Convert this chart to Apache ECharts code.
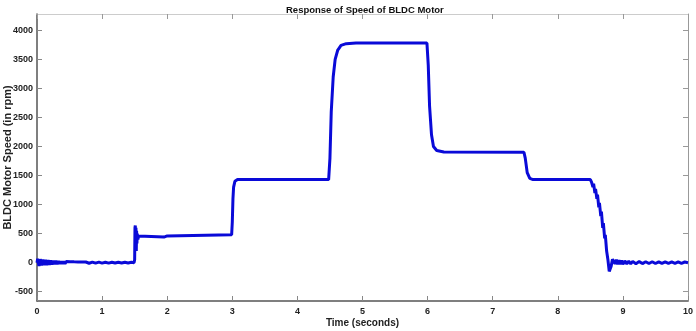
<!DOCTYPE html>
<html>
<head>
<meta charset="utf-8">
<script src="https://cdn.jsdelivr.net/npm/echarts@6/dist/echarts.min.js"></script>
<style>
  html, body { margin: 0; padding: 0; background: #fff; }
  #chart { width: 696px; height: 331px; }
</style>
</head>
<body>
<div id="chart"></div>
<script>
// time (s) and motor speed (rpm)
var times = [
  0, 0.01, 0.03, 0.05, 0.07, 0.09, 0.11, 0.13, 0.15, 0.17, 0.19, 0.21, 0.23, 0.25, 0.27, 0.29,
  0.31, 0.33, 0.35, 0.37, 0.39, 0.41, 0.43, 0.45, 0.48, 0.51, 0.54, 0.57, 0.60, 0.63, 0.66, 0.69,
  0.72, 0.75, 0.80, 0.85, 0.90, 0.95, 1.0, 1.05, 1.1, 1.15, 1.2, 1.25, 1.3, 1.35, 1.4, 1.45, 1.49,
  1.5, 1.505, 1.51, 1.515, 1.52, 1.525, 1.53, 1.535, 1.54, 1.55, 1.56, 1.58, 1.95, 2.0, 2.03, 2.99,
  3.0, 3.01, 3.02, 3.04, 3.08, 4.48,
  4.5, 4.52, 4.55, 4.58, 4.62, 4.67, 4.75, 4.9, 5.99,
  6.01, 6.03, 6.06, 6.09, 6.14, 6.25, 7.48,
  7.5, 7.53, 7.57, 7.62, 8.5,
  8.52, 8.54, 8.55, 8.57, 8.58, 8.6, 8.61, 8.63, 8.64, 8.66, 8.67, 8.69, 8.7, 8.72, 8.73, 8.75, 8.77, 8.79, 8.8,
  8.82, 8.84, 8.86, 8.88, 8.9, 8.92, 8.94, 8.96, 8.98, 9.0, 9.03, 9.06, 9.09, 9.12, 9.15, 9.2, 9.25,
  9.3, 9.35, 9.4, 9.45, 9.5, 9.55, 9.6, 9.65, 9.7, 9.75, 9.8, 9.85, 9.9, 9.95, 10
];
var speeds = [
  0, 65, -55, 60, -50, 55, -45, 48, -40, 42, -36, 38, -32, 34, -28, 30,
  -25, 26, -22, 23, -20, 20, -18, 18, -16, 16, -14, 14, -13, 13, -12, 12,
  -11, 11, -10, 10, -9, 9, -8, 8, -8, 8, -7, 7, -7, 7, -6, 6, 0,
  50, 600, 640, 250, 600, 200, 550, 330, 500, 400, 460, 440, 440, 460, 480, 480,
  700, 1100, 1300, 1400, 1430, 1430,
  1800, 2600, 3200, 3500, 3660, 3740, 3770, 3780, 3780,
  3400, 2700, 2200, 2000, 1930, 1905, 1900,
  1800, 1550, 1450, 1430, 1430,
  1380, 1300, 1360, 1200, 1270, 1100, 1170, 950, 1030, 800, 880, 600, 680, 420, 480, 200, 50, -150, -160,
  -60, 60, 90, -20, 50, -30, 40, -25, 35, -25, 30, -22, 25, -20, 22, -18, 18,
  -16, 16, -15, 15, -14, 14, -13, 13, -12, 12, -12, 12, -11, 11, 0
];
var xTicks = [0, 1, 2, 3, 4, 5, 6, 7, 8, 9, 10];
var yTicks = [-500, 0, 500, 1000, 1500, 2000, 2500, 3000, 3500, 4000];

var points = times.map(function (t, i) { return [t, speeds[i]]; });

var chart = echarts.init(document.getElementById('chart'));
var xNameFont = { fontFamily: 'Liberation Sans', fontWeight: 'bold', fontSize: 10, color: '#222' };
var yNameFont = { fontFamily: 'Liberation Sans', fontWeight: 'bold', fontSize: 11, color: '#222' };
var tickFont = { fontFamily: 'Liberation Sans', fontWeight: 'bold', fontSize: 9, color: '#222' };
var plain = function (v) { return String(v); };

chart.setOption({
  animation: false,
  title: {
    text: 'Response of Speed of BLDC Motor',
    left: 281,
    top: 0,
    textStyle: { fontFamily: 'Liberation Sans', fontWeight: 'bold', fontSize: 9.5, color: '#111' }
  },
  grid: { left: 37, right: 8, top: 14, bottom: 30, outerBoundsMode: 'none', containLabel: false },
  xAxis: [{
    type: 'value', min: 0, max: 10,
    name: 'Time (seconds)', nameLocation: 'middle', nameGap: 17, nameMoveOverlap: false,
    nameTextStyle: xNameFont,
    axisLine: { onZero: false, lineStyle: { color: '#555', width: 1.5 } },
    axisTick: { inside: true, length: 5, customValues: xTicks, lineStyle: { color: '#888' } },
    axisLabel: Object.assign({ customValues: xTicks, formatter: plain, margin: 6 }, tickFont),
    splitLine: { show: false }
  }, {
    type: 'value', min: 0, max: 10, position: 'top',
    axisLine: { onZero: false, lineStyle: { color: '#ccc' } },
    axisTick: { inside: true, length: 5, customValues: xTicks, lineStyle: { color: '#999' } },
    axisLabel: { show: false },
    splitLine: { show: false }
  }],
  yAxis: [{
    type: 'value', min: -660, max: 4280,
    name: 'BLDC Motor Speed (in rpm)', nameLocation: 'middle', nameGap: 24, nameMoveOverlap: false,
    nameTextStyle: yNameFont,
    axisLine: { show: true, onZero: false, lineStyle: { color: '#555', width: 1.5 } },
    axisTick: { show: true, inside: true, length: 5, customValues: yTicks, lineStyle: { color: '#888' } },
    axisLabel: Object.assign({ customValues: yTicks, formatter: plain, margin: 4 }, tickFont),
    splitLine: { show: false }
  }, {
    type: 'value', min: -660, max: 4280, position: 'right',
    axisLine: { show: true, onZero: false, lineStyle: { color: '#999' } },
    axisTick: { show: true, inside: true, length: 5, customValues: yTicks, lineStyle: { color: '#999' } },
    axisLabel: { show: false },
    splitLine: { show: false }
  }],
  series: [{
    type: 'line',
    data: points,
    showSymbol: false,
    lineStyle: { color: '#0a0ad8', width: 3 },
    z: 3
  }]
});
</script>
</body>
</html>
